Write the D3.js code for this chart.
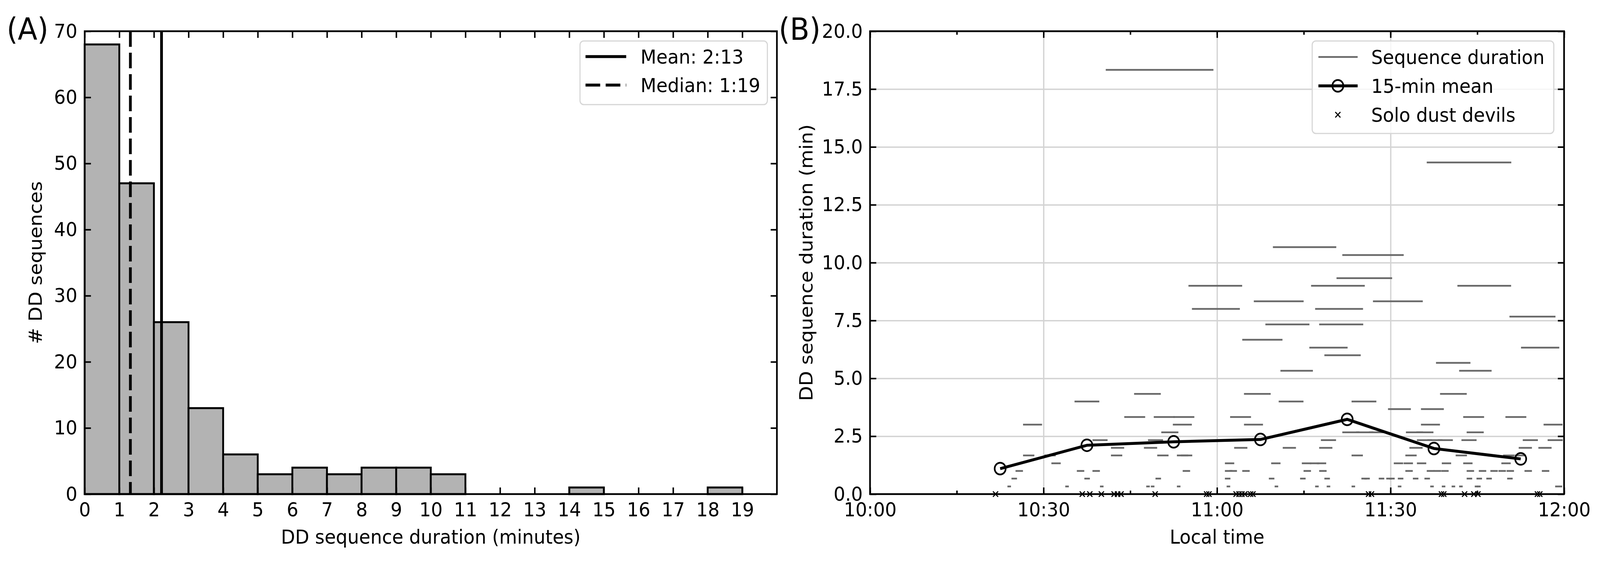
<!DOCTYPE html>
<html>
<head>
<meta charset="utf-8">
<script src="https://cdnjs.cloudflare.com/ajax/libs/d3/7.8.5/d3.min.js"></script>
<style>
  html, body { margin: 0; padding: 0; width: 100%; height: 100%; overflow: hidden; background: #fff; }
  #chart { width: 100%; height: 100%; }
  svg { display: block; }
  text { font-family: "DejaVu Sans", sans-serif; }
</style>
</head>
<body>
<div id="chart"></div>
<script>
// ---- (A) histogram of sequence durations ----
var binStarts = [0, 1, 2, 3, 4, 5, 6, 7, 8, 9, 10, 11, 12, 13, 14, 15, 16, 17, 18, 19];
var binCounts = [68, 47, 26, 13, 6, 3, 4, 3, 4, 4, 3, 0, 0, 0, 1, 0, 0, 0, 1, 0];
var histYTicks = [0, 10, 20, 30, 40, 50, 60, 70];
var meanDuration = 2.22;    // 2:13
var medianDuration = 1.32;  // 1:19
var histLegend = ["Mean: 2:13", "Median: 1:19"];

// ---- (B) sequences over local time (minutes after 10:00) ----
var seqStart = [23.9, 24.6, 25.3, 26.6, 26.6, 30.3, 31.5, 33.9, 35.5, 35.9, 37.2, 38.6, 38.6, 39.9,
  40.9, 41.8, 41.8, 44.1, 45.8, 47.5, 47.9, 48.2, 48.7, 49.2, 49.5, 49.8, 50.5, 52.5, 52.6, 53.2,
  53.2, 53.9, 54.2, 55.2, 55.8, 61.5, 61.5, 61.5, 61.8, 62.3, 62.4, 63.1, 64.5, 64.5, 64.8, 64.8,
  66.5, 68.5, 69.1, 69.5, 69.8, 70.1, 70.8, 71.1, 71.5, 74.5, 74.8, 75.1, 76.1, 76.2, 76.4, 77.1,
  77.1, 77.4, 77.8, 77.8, 77.8, 78.1, 78.7, 78.7, 79.1, 80.8, 81.8, 81.8, 83.4, 83.4, 83.4, 84.2,
  85.1, 85.6, 86.4, 87.1, 88.1, 89.4, 89.7, 89.9, 90.7, 91.4, 91.4, 92.4, 92.7, 92.7, 92.8, 93.4,
  94.0, 94.6, 94.7, 94.7, 95.4, 95.4, 96.0, 96.4, 96.4, 96.5, 97.0, 97.6, 98.0, 98.3, 98.7, 98.9,
  99.0, 99.0, 100.7, 101.4, 101.7, 102.0, 102.0, 102.4, 102.7, 102.7, 103.3, 103.3, 103.3, 104.7,
  105.0, 105.1, 105.4, 106.7, 107.4, 108.8, 109.3, 109.6, 110.0, 110.2, 110.3, 110.7, 111.6, 112.3,
  112.7, 113.0, 113.3, 115.7, 116.3, 116.6, 117.3, 118.6, 119.2];
var seqDuration = [0.33, 0.67, 1.00, 1.67, 3.00, 1.67, 1.33, 0.33, 4.00, 1.00, 0.67, 1.00, 2.33, 0.33,
  18.33, 2.00, 1.67, 3.33, 4.33, 2.00, 0.33, 2.33, 0.33, 3.33, 0.67, 1.67, 2.67, 3.00, 3.33, 1.67,
  0.33, 1.67, 1.00, 9.00, 8.00, 1.33, 1.00, 0.67, 0.33, 1.00, 3.33, 2.00, 6.67, 1.00, 4.33, 3.00,
  8.33, 7.33, 0.67, 1.33, 10.67, 0.33, 4.00, 5.33, 2.00, 0.67, 1.33, 1.00, 6.33, 1.33, 9.00, 8.00,
  0.33, 1.33, 7.33, 2.00, 1.00, 2.33, 6.00, 0.67, 0.33, 9.33, 10.33, 2.67, 4.00, 1.67, 0.33, 2.67,
  0.67, 0.67, 2.67, 8.33, 0.67, 0.67, 3.67, 0.67, 1.33, 0.67, 0.33, 1.33, 1.67, 1.00, 2.67, 2.00,
  0.67, 2.67, 2.33, 1.33, 3.67, 3.00, 0.67, 14.33, 1.00, 2.33, 0.33, 1.00, 5.67, 2.33, 4.33, 1.00,
  1.33, 0.33, 0.33, 1.67, 9.00, 5.33, 0.33, 2.33, 3.33, 1.33, 2.67, 1.00, 0.67, 0.33,
  0.67, 0.33, 1.00, 0.67, 1.00, 1.00, 1.33, 1.67, 3.33, 1.00, 0.67, 7.67, 1.67, 2.00,
  6.33, 2.33, 1.00, 2.00, 1.00, 3.00, 2.33, 0.33, 0.33];
var soloTimes = [21.7, 36.7, 38.0, 40.0, 42.2, 42.8, 43.4, 49.3, 58.2, 58.6, 63.3, 63.8, 64.3, 64.8,
  65.8, 66.2, 86.2, 86.7, 98.8, 99.2, 102.8, 104.4, 105.1, 115.4, 115.8];
var meanTimes = [22.5, 37.5, 52.5, 67.5, 82.5, 97.5, 112.5];
var meanValues = [1.10, 2.11, 2.26, 2.36, 3.23, 1.97, 1.52];
var timeYTicks = [0, 2.5, 5, 7.5, 10, 12.5, 15, 17.5, 20];
var timeLegend = ["Sequence duration", "15-min mean", "Solo dust devils"];

var width = 4364, height = 1440;
var fontSize = 50;
var tickLen = 17;

// drawn in a fixed 4364x1440 frame, stretched to fill the window
var svg = d3.select("#chart").append("svg")
    .attr("viewBox", "0 0 " + width + " " + height)
    .attr("preserveAspectRatio", "none")
    .attr("width", "100%")
    .attr("height", "100%");

svg.append("rect").attr("width", width).attr("height", height).attr("fill", "#fff");

function styleAxis(g) {
  g.select(".domain").remove();
  g.selectAll(".tick line").attr("stroke", "#000").attr("stroke-width", 4);
  g.selectAll(".tick text").attr("fill", "#000").style("font-size", fontSize + "px");
}

// ================= Panel A =================
var A = { left: 231, right: 2119, top: 80, bottom: 1266 };

var xA = d3.scaleLinear().domain([0, 20]).range([A.left, A.right]);
var yA = d3.scaleLinear().domain([0, 70]).range([A.bottom, A.top]);

var gA = svg.append("g");

gA.selectAll("rect.bar")
    .data(binStarts.map(function(s, i) { return { x0: s, n: binCounts[i] }; }).filter(function(d) { return d.n > 0; }))
  .enter().append("rect")
    .attr("class", "bar")
    .attr("x", function(d) { return xA(d.x0); })
    .attr("y", function(d) { return yA(d.n); })
    .attr("width", function(d) { return xA(d.x0 + 1) - xA(d.x0); })
    .attr("height", function(d) { return yA(0) - yA(d.n); })
    .attr("fill", "#b3b3b3")
    .attr("stroke", "#000")
    .attr("stroke-width", 5);

gA.append("line")
    .attr("x1", xA(meanDuration)).attr("x2", xA(meanDuration))
    .attr("y1", yA(0)).attr("y2", yA(70))
    .attr("stroke", "#000").attr("stroke-width", 7.5);

gA.append("line")
    .attr("x1", xA(medianDuration)).attr("x2", xA(medianDuration))
    .attr("y1", yA(70)).attr("y2", yA(0))
    .attr("stroke", "#000").attr("stroke-width", 7.5)
    .attr("stroke-dasharray", "40,15");

gA.append("g")
    .attr("transform", "translate(0," + A.bottom + ")")
    .call(d3.axisBottom(xA).tickValues(binStarts).tickFormat(d3.format("d")).tickSize(-tickLen).tickPadding(22))
    .call(styleAxis);
gA.append("g")
    .attr("transform", "translate(0," + A.top + ")")
    .call(d3.axisTop(xA).tickValues(binStarts).tickFormat("").tickSize(-tickLen))
    .call(styleAxis);
gA.append("g")
    .attr("transform", "translate(" + A.left + ",0)")
    .call(d3.axisLeft(yA).tickValues(histYTicks).tickSize(-tickLen).tickPadding(20))
    .call(styleAxis);
gA.append("g")
    .attr("transform", "translate(" + A.right + ",0)")
    .call(d3.axisRight(yA).tickValues(histYTicks).tickFormat("").tickSize(-tickLen))
    .call(styleAxis);

gA.append("rect")
    .attr("x", A.left).attr("y", A.top)
    .attr("width", A.right - A.left).attr("height", A.bottom - A.top)
    .attr("fill", "none").attr("stroke", "#000").attr("stroke-width", 4.5);

gA.append("text")
    .attr("x", (A.left + A.right) / 2).attr("y", 1393)
    .attr("text-anchor", "middle")
    .style("font-size", fontSize + "px")
    .text("DD sequence duration (minutes)");

gA.append("text")
    .attr("transform", "translate(114," + (A.top + A.bottom) / 2 + ") rotate(-90)")
    .attr("text-anchor", "middle")
    .style("font-size", fontSize + "px")
    .text("# DD sequences");

gA.append("text")
    .attr("x", 18).attr("y", 102)
    .style("font-size", "78px")
    .text("(A)");

// legend A
var legA = gA.append("g").attr("transform", "translate(1582,105)");
legA.append("rect")
    .attr("width", 511).attr("height", 163).attr("rx", 10)
    .attr("fill", "#fff").attr("fill-opacity", 0.8)
    .attr("stroke", "#d6d6d6").attr("stroke-width", 3);
legA.selectAll("line")
    .data(histLegend)
  .enter().append("line")
    .attr("x1", 15).attr("x2", 126)
    .attr("y1", function(d, i) { return 40 + i * 73; })
    .attr("y2", function(d, i) { return 40 + i * 73; })
    .attr("stroke", "#000").attr("stroke-width", 7.5)
    .attr("stroke-dasharray", function(d, i) { return i ? "40,15" : null; });
legA.selectAll("text")
    .data(histLegend)
  .enter().append("text")
    .attr("x", 165)
    .attr("y", function(d, i) { return 40 + i * 73; })
    .attr("dy", "0.36em")
    .style("font-size", fontSize + "px")
    .text(function(d) { return d; });

// ================= Panel B =================
var B = { left: 2373, right: 4266, top: 80, bottom: 1266 };
var base = new Date(2021, 0, 1, 10, 0, 0);
function atMinute(m) { return new Date(base.getTime() + m * 60000); }

var xB = d3.scaleTime().domain([atMinute(0), atMinute(120)]).range([B.left, B.right]);
var yB = d3.scaleLinear().domain([0, 20]).range([B.bottom, B.top]);

var gB = svg.append("g");

// grid
gB.append("g")
    .attr("transform", "translate(0," + B.bottom + ")")
    .call(d3.axisBottom(xB).ticks(d3.timeMinute.every(30)).tickFormat("").tickSize(-(B.bottom - B.top)))
    .call(function(g) {
      g.select(".domain").remove();
      g.selectAll(".tick line").attr("stroke", "#d3d3d3").attr("stroke-width", 3.5);
    });
gB.append("g")
    .attr("transform", "translate(" + B.left + ",0)")
    .call(d3.axisLeft(yB).tickValues(timeYTicks).tickFormat("").tickSize(-(B.right - B.left)))
    .call(function(g) {
      g.select(".domain").remove();
      g.selectAll(".tick line").attr("stroke", "#d3d3d3").attr("stroke-width", 3.5);
    });

// sequences: a bar from start to end, drawn at the height of its duration
gB.selectAll("line.seq")
    .data(seqStart.map(function(s, i) { return { s: s, d: seqDuration[i] }; }))
  .enter().append("line")
    .attr("class", "seq")
    .attr("x1", function(d) { return xB(atMinute(d.s)); })
    .attr("x2", function(d) { return xB(atMinute(d.s + d.d)); })
    .attr("y1", function(d) { return yB(d.d); })
    .attr("y2", function(d) { return yB(d.d); })
    .attr("stroke", "#696969")
    .attr("stroke-width", 4.5)
    .attr("stroke-linecap", "square");

// 15-min mean
var meanPts = meanTimes.map(function(t, i) { return [t, meanValues[i]]; });
var meanLine = d3.line()
    .x(function(d) { return xB(atMinute(d[0])); })
    .y(function(d) { return yB(d[1]); });
gB.append("path")
    .datum(meanPts)
    .attr("d", meanLine)
    .attr("fill", "none")
    .attr("stroke", "#000")
    .attr("stroke-width", 7.5);
gB.selectAll("circle.mean")
    .data(meanPts)
  .enter().append("circle")
    .attr("class", "mean")
    .attr("cx", function(d) { return xB(atMinute(d[0])); })
    .attr("cy", function(d) { return yB(d[1]); })
    .attr("r", 15)
    .attr("fill", "none")
    .attr("stroke", "#000")
    .attr("stroke-width", 4.5);

// solo dust devils
var cross = d3.symbol().type(d3.symbolX).size(130);
gB.selectAll("path.solo")
    .data(soloTimes)
  .enter().append("path")
    .attr("class", "solo")
    .attr("d", cross)
    .attr("transform", function(d) { return "translate(" + xB(atMinute(d)) + "," + yB(0) + ")"; })
    .attr("fill", "none")
    .attr("stroke", "#000")
    .attr("stroke-width", 3);

// axes
var fmt = d3.timeFormat("%H:%M");
gB.append("g")
    .attr("transform", "translate(0," + B.bottom + ")")
    .call(d3.axisBottom(xB).ticks(d3.timeMinute.every(15)).tickFormat("").tickSize(-9))
    .call(styleAxis);
gB.append("g")
    .attr("transform", "translate(0," + B.top + ")")
    .call(d3.axisTop(xB).ticks(d3.timeMinute.every(15)).tickFormat("").tickSize(-9))
    .call(styleAxis);
gB.append("g")
    .attr("transform", "translate(0," + B.bottom + ")")
    .call(d3.axisBottom(xB).ticks(d3.timeMinute.every(30)).tickFormat(fmt).tickSize(-tickLen).tickPadding(22))
    .call(styleAxis);
gB.append("g")
    .attr("transform", "translate(0," + B.top + ")")
    .call(d3.axisTop(xB).ticks(d3.timeMinute.every(30)).tickFormat("").tickSize(-tickLen))
    .call(styleAxis);
gB.append("g")
    .attr("transform", "translate(" + B.left + ",0)")
    .call(d3.axisLeft(yB).tickValues(timeYTicks).tickFormat(d3.format(".1f")).tickSize(-tickLen).tickPadding(20))
    .call(styleAxis);
gB.append("g")
    .attr("transform", "translate(" + B.right + ",0)")
    .call(d3.axisRight(yB).tickValues(timeYTicks).tickFormat("").tickSize(-tickLen))
    .call(styleAxis);

gB.append("rect")
    .attr("x", B.left).attr("y", B.top)
    .attr("width", B.right - B.left).attr("height", B.bottom - B.top)
    .attr("fill", "none").attr("stroke", "#000").attr("stroke-width", 4.5);

gB.append("text")
    .attr("x", (B.left + B.right) / 2).attr("y", 1393)
    .attr("text-anchor", "middle")
    .style("font-size", fontSize + "px")
    .text("Local time");

gB.append("text")
    .attr("transform", "translate(2216," + (B.top + B.bottom) / 2 + ") rotate(-90)")
    .attr("text-anchor", "middle")
    .style("font-size", fontSize + "px")
    .text("DD sequence duration (min)");

gB.append("text")
    .attr("x", 2124).attr("y", 102)
    .style("font-size", "78px")
    .text("(B)");

// legend B
var legB = gB.append("g").attr("transform", "translate(3579,105)");
legB.append("rect")
    .attr("width", 659).attr("height", 237).attr("rx", 10)
    .attr("fill", "#fff").attr("fill-opacity", 0.8)
    .attr("stroke", "#d6d6d6").attr("stroke-width", 3);
legB.append("line")
    .attr("x1", 17).attr("x2", 124).attr("y1", 41).attr("y2", 41)
    .attr("stroke", "#696969").attr("stroke-width", 4.5);
legB.append("line")
    .attr("x1", 17).attr("x2", 124).attr("y1", 115).attr("y2", 115)
    .attr("stroke", "#000").attr("stroke-width", 7.5);
legB.append("circle")
    .attr("cx", 70).attr("cy", 115).attr("r", 15)
    .attr("fill", "none").attr("stroke", "#000").attr("stroke-width", 4.5);
legB.append("path")
    .attr("d", cross)
    .attr("transform", "translate(70,189)")
    .attr("fill", "none").attr("stroke", "#000").attr("stroke-width", 3);
legB.selectAll("text")
    .data(timeLegend)
  .enter().append("text")
    .attr("x", 161)
    .attr("y", function(d, i) { return 41 + i * 74; })
    .attr("dy", "0.36em")
    .style("font-size", fontSize + "px")
    .text(function(d) { return d; });
</script>
</body>
</html>
